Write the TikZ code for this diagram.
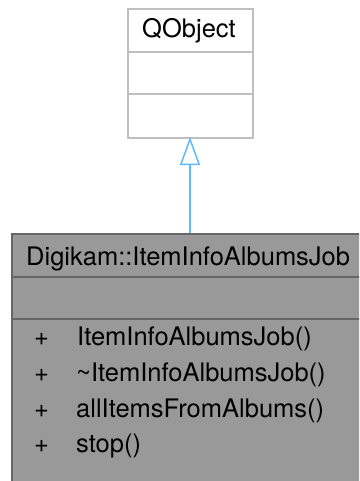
\documentclass[tikz,border=0pt]{standalone}
\usepackage{fontspec}
\setmainfont{TeX Gyre Heros}
\usetikzlibrary{arrows.meta}
\definecolor{boxgray}{HTML}{999999}
\definecolor{boxedge}{HTML}{666666}
\definecolor{qedge}{HTML}{BFBFBF}
\definecolor{inh}{HTML}{63B8FF}
\begin{document}
\begin{tikzpicture}[x=1pt,y=-1pt,
  txt/.style={anchor=base west,inner sep=0pt,font=\fontsize{25.5}{30}\selectfont},
  qbox/.style={draw=qedge,fill=white,line width=1.6pt,inner sep=0pt,minimum width=125pt,minimum height=129pt},
  cbox/.style={draw=boxedge,fill=boxgray,line width=1.6pt,inner sep=0pt,minimum width=354pt,minimum height=260pt},
  inherit/.style={draw=inh,line width=1.5pt,-{Triangle[open,length=28pt,width=20pt,fill=white]}}]
\useasboundingbox (0,0) rectangle (359,481);
\clip (0,0) rectangle (359,481);
\fill[white] (0,0) rectangle (359,481);
% QObject
\node[qbox,anchor=north west] (qobj) at (127,8) {};
\draw[qedge,line width=1.6pt] (127,52) -- (252,52);
\draw[qedge,line width=1.6pt] (127,94) -- (252,94);
\node[anchor=base,inner sep=0pt,font=\fontsize{25.5}{30}\selectfont] (qname) at (189,38) {QObject};
% Class
\node[cbox,anchor=north west] (cls) at (11,233) {};
\draw[boxedge,line width=1.6pt] (11,277) -- (370,277);
\draw[boxedge,line width=1.6pt] (11,319) -- (370,319);
\node[txt] (cname) at (26,265) {Digikam::ItemInfoAlbumsJob};
\node[txt] (p1) at (34,345) {+};
\node[txt] (m1) at (77,345) {ItemInfoAlbumsJob()};
\node[txt] (p2) at (34,381) {+};
\node[txt] (m2) at (76,381) {\char"7E ItemInfoAlbumsJob()};
\node[txt] (p3) at (34,417) {+};
\node[txt] (m3) at (76,417) {allItemsFromAlbums()};
\node[txt] (p4) at (34,452) {+};
\node[txt] (m4) at (76,452) {stop()};
% inheritance
\coordinate (cu) at (190,233);
\coordinate (qd) at (190,137);
\draw[inherit] (cu) -- (qd);
\end{tikzpicture}
\end{document}
